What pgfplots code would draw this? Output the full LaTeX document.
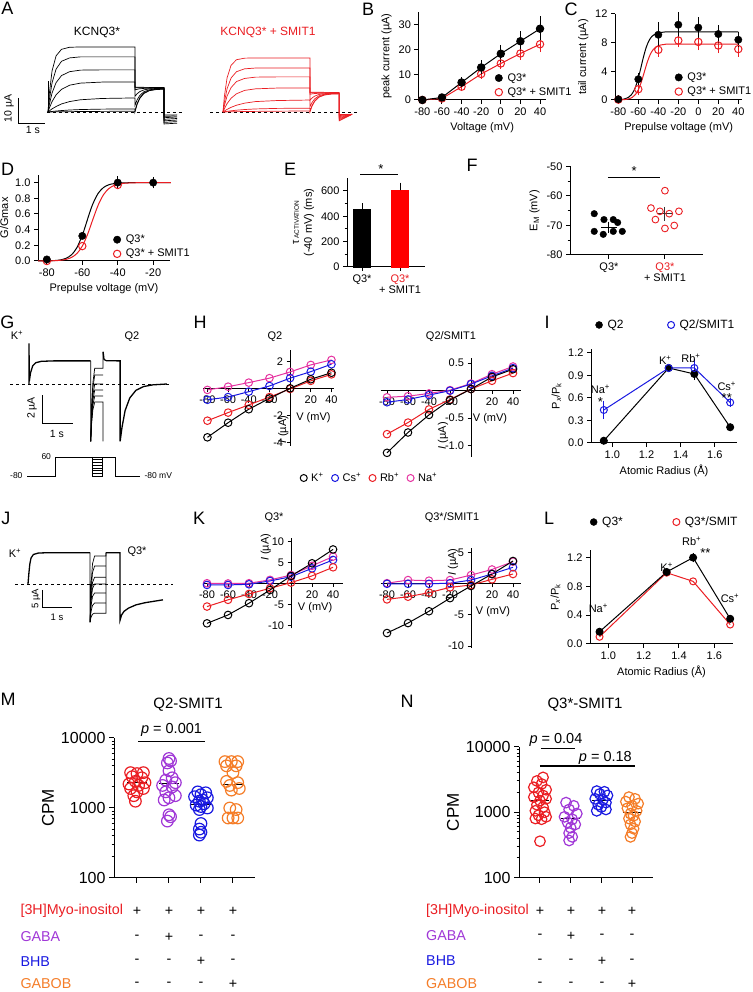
\documentclass[border=0pt]{standalone}
\usepackage{pgfplots}
\pgfplotsset{compat=1.18}
\usepackage{fontspec}
\setmainfont{Liberation Sans}
\newcommand\fs[1]{\fontsize{#1}{#1}\selectfont}
\definecolor{qred}{RGB}{235,30,35}
\definecolor{qblue}{RGB}{25,25,225}
\definecolor{qpurp}{RGB}{160,55,215}
\definecolor{qorange}{RGB}{245,125,40}
\definecolor{qmag}{RGB}{230,50,160}
\pgfplotsset{
 prism/.style={scale only axis, axis lines=left, axis line style={-, line width=1pt}, tick align=outside, major tick length=4pt, minor tick length=2.5pt, tick style={black, line width=1pt}, tick label style={font=\fs{11}}, label style={font=\fs{11}}, clip=false, /pgf/number format/assume math mode=true, /pgf/number format/1000 sep={}, legend cell align=left, legend style={draw=none, fill=none, font=\fs{11}, inner sep=0pt, row sep=1pt, /tikz/every odd column/.append style={column sep=3pt}}},
 trace/.style={scale only axis, hide axis, clip=false},
 iv/.style={scale only axis, axis lines=middle, axis line style={-, line width=1pt}, tick align=outside, major tick length=3.5pt, tick style={black, line width=1pt}, tick label style={font=\fs{11}}, clip=false, /pgf/number format/assume math mode=true, xtick={-80,-60,-40,-20,20,40}},
 ivp/.style={line width=1pt, mark=o, mark size=3.8pt, mark options={solid}},
 ebar/.style={error bars/.cd, y dir=both, y explicit, error bar style={line width=1pt}, error mark options={mark size=2.5pt, line width=1pt}},
}
\begin{document}
\begin{tikzpicture}[x=1pt,y=1pt]
\fill[white] (0,0) rectangle (752,992);
\path[use as bounding box] (0,0) rectangle (752,992);

% ---------------- A traces black
\begin{axis}[trace, at={(7.5pt,864.4pt)}, anchor=south west, width=175.5pt, height=85.8pt, xmin=-1.5, xmax=5, ymin=-6, ymax=27]
\addplot[black, dashed, line width=0.8pt] coordinates {(-0.04,0)(4.96,0)};
\addplot[black, line width=0.7pt] coordinates {(0,0)(0.05,7.1)(0.15,15.8)(0.3,21.6)(0.5,24.1)(0.8,24.9)(1.2,25)(3.22,25)(3.22,9.6)(3.3,9.5)(4.3,9.4)(4.3,-4.6)(4.78,-4.3)};
\addplot[black, line width=0.7pt] coordinates {(0,0)(0.05,4.7)(0.15,11.2)(0.3,16.5)(0.5,19.5)(0.8,20.8)(1.2,21.2)(3.22,21.2)(3.22,9.3)(4.3,9.3)(4.3,-4.0)(4.78,-3.7)};
\addplot[black, line width=0.7pt] coordinates {(0,0)(0.05,2.9)(0.15,7.3)(0.3,11.3)(0.5,14.0)(0.8,15.5)(1.2,16.1)(2.0,16.2)(3.22,16.2)(3.22,8.5)(3.3,8.73)(3.4,8.92)(3.55,9.07)(3.75,9.15)(4.0,9.19)(4.3,9.2)(4.3,-3.4)(4.78,-3.1)};
\addplot[black, line width=0.7pt] coordinates {(0,0)(0.05,1.5)(0.15,4.0)(0.3,6.6)(0.5,8.7)(0.8,10.3)(1.2,11.1)(2.0,11.5)(3.22,11.5)(3.22,6)(3.3,7.02)(3.4,7.84)(3.55,8.5)(3.75,8.88)(4.0,9.04)(4.3,9.09)(4.3,-2.8)(4.78,-2.5)};
\addplot[black, line width=0.7pt] coordinates {(0,0)(0.05,0.43)(0.15,1.2)(0.3,2.1)(0.5,3.1)(0.8,4.0)(1.2,4.7)(2.0,5.2)(3.22,5.4)(3.22,2.5)(3.3,4.65)(3.4,6.35)(3.55,7.75)(3.75,8.54)(4.0,8.87)(4.3,8.97)(4.3,-2.2)(4.78,-1.9)};
\addplot[black, line width=0.7pt] coordinates {(0,0)(0.05,0.07)(0.15,0.2)(0.3,0.37)(0.5,0.55)(0.8,0.76)(1.2,0.94)(2.0,1.1)(3.22,1.18)(3.22,0.4)(3.3,3.2)(3.4,5.44)(3.55,7.27)(3.75,8.3)(4.0,8.73)(4.3,8.87)(4.3,-1.7)(4.78,-1.5)};
\addplot[black, line width=0.7pt] coordinates {(0,0)(0.5,0.1)(1.5,0.2)(3.22,0.3)(3.22,0)(3.3,2.9)(3.4,5.22)(3.55,7.11)(3.75,8.18)(4.0,8.62)(4.3,8.76)(4.3,-1.2)(4.78,-1.1)};
\addplot[black, line width=1pt] coordinates {(0.01,0)(0.01,12)};
\addplot[black, line width=1pt] coordinates {(-1.111,5.385)(-1.111,-4.615)(-0.111,-4.615)};
\end{axis}
% ---------------- A traces red
\begin{axis}[trace, at={(209.5pt,864.4pt)}, anchor=south west, width=153.9pt, height=85.8pt, xmin=-0.5, xmax=5.2, ymin=-6, ymax=27]
\addplot[black, dashed, line width=0.8pt] coordinates {(-0.48,0)(4.96,0)};
\addplot[qred, line width=0.7pt] coordinates {(0,0)(0.05,5.9)(0.15,13.1)(0.3,18.0)(0.5,20.1)(0.8,20.7)(1.2,20.8)(3.22,20.8)(3.22,7.6)(4.3,7.5)(4.3,-3.4)(4.78,-0.9)};
\addplot[qred, line width=0.7pt] coordinates {(0,0)(0.05,3.7)(0.15,8.9)(0.3,13.1)(0.5,15.5)(0.8,16.6)(1.2,16.9)(3.22,16.9)(3.22,7.4)(4.3,7.4)(4.3,-3.0)(4.78,-0.9)};
\addplot[qred, line width=0.7pt] coordinates {(0,0)(0.05,2.4)(0.15,6.1)(0.3,9.4)(0.5,11.7)(0.8,12.9)(1.2,13.4)(2.0,13.5)(3.22,13.5)(3.22,6.8)(3.3,6.97)(3.4,7.1)(3.55,7.2)(3.75,7.26)(4.0,7.29)(4.3,7.3)(4.3,-2.6)(4.78,-0.9)};
\addplot[qred, line width=0.7pt] coordinates {(0,0)(0.05,1.2)(0.15,3.2)(0.3,5.3)(0.5,7.0)(0.8,8.3)(1.2,8.9)(2.0,9.2)(3.22,9.2)(3.22,4.5)(3.3,5.41)(3.4,6.13)(3.55,6.72)(3.75,7.05)(4.0,7.2)(4.3,7.24)(4.3,-2.2)(4.78,-0.9)};
\addplot[qred, line width=0.7pt] coordinates {(0,0)(0.05,0.37)(0.15,1.0)(0.3,1.8)(0.5,2.6)(0.8,3.4)(1.2,4.0)(2.0,4.4)(3.22,4.6)(3.22,2)(3.3,3.72)(3.4,5.08)(3.55,6.2)(3.75,6.83)(4.0,7.1)(4.3,7.18)(4.3,-1.8)(4.78,-0.9)};
\addplot[qred, line width=0.7pt] coordinates {(0,0)(0.05,0.09)(0.15,0.25)(0.3,0.46)(0.5,0.69)(0.8,0.95)(1.2,1.17)(2.0,1.38)(3.22,1.47)(3.22,0.3)(3.3,2.54)(3.4,4.33)(3.55,5.79)(3.75,6.62)(4.0,6.96)(4.3,7.07)(4.3,-1.4)(4.78,-0.9)};
\addplot[qred, line width=0.7pt] coordinates {(0,0)(0.5,0.13)(1.5,0.27)(3.22,0.4)(3.22,0)(3.3,2.31)(3.4,4.15)(3.55,5.66)(3.75,6.5)(4.0,6.86)(4.3,6.97)(4.3,-1.0)(4.78,-0.9)};
\end{axis}
\node[font=\fs{12}] at (97,960) {KCNQ3*};
\node[font=\fs{12}, text=qred] at (268,960) {KCNQ3* + SMIT1};
\node[font=\fs{10.5}, rotate=90] at (9,883.5) {10 µA};
\node[font=\fs{10.5}] at (33,862) {1 s};

% ---------------- B
\begin{axis}[prism, at={(418.4pt,892pt)}, anchor=south west, width=127.5pt, height=87.5pt, xmin=-84, xmax=46, ymin=0, ymax=35, xtick={-80,-60,-40,-20,0,20,40}, ytick={0,10,20,30}, xlabel={Voltage (mV)}, ylabel={peak current (µA)}, legend style={at={(0.6,0.17)}, anchor=west}]
\addlegendimage{only marks, mark=*, mark size=3.7pt, black}
\addlegendentry{Q3*}
\addlegendimage{only marks, mark=o, mark size=3.7pt, qred, line width=1pt}
\addlegendentry{Q3* + SMIT1}
\addplot[forget plot, qred, line width=1pt, mark=o, mark size=3.7pt, ebar] coordinates {(-80,0)+-(0,0.3)(-60,0.6)+-(0,0.4)(-40,5.3)+-(0,0.8)(-20,10.4)+-(0,1)(0,14.6)+-(0,1.2)(20,18.6)+-(0,1.5)(40,22.3)+-(0,2.2)};
\addplot[forget plot, black, line width=1pt, mark=*, mark size=3.7pt, ebar] coordinates {(-80,0)+-(0,0.3)(-60,1)+-(0,0.5)(-40,7)+-(0,1)(-20,13)+-(0,1.8)(0,18.5)+-(0,2.5)(20,23.5)+-(0,3)(40,28.5)+-(0,4)};
\end{axis}

% ---------------- C
\begin{axis}[prism, at={(615pt,892pt)}, anchor=south west, width=127.3pt, height=86pt, xmin=-83.3, xmax=44, ymin=0, ymax=12, xtick={-80,-60,-40,-20,0,20,40}, ytick={0,4,8,12}, xlabel={Prepulse voltage (mV)}, ylabel={tail current (µA)}, legend style={at={(0.47,0.18)}, anchor=west}]
\addlegendimage{only marks, mark=*, mark size=3.7pt, black}
\addlegendentry{Q3*}
\addlegendimage{only marks, mark=o, mark size=3.7pt, qred, line width=1pt}
\addlegendentry{Q3* + SMIT1}
\addplot[forget plot, black, line width=1pt, smooth] coordinates {(-80,0.03)(-75,0.104)(-70,0.354)(-67,0.721)(-64,1.407)(-61,2.555)(-58,4.159)(-55,5.912)(-52,7.384)(-49,8.368)(-46,8.929)(-43,9.222)(-40,9.366)(-35,9.461)(-28,9.493)(40,9.5)};
\addplot[forget plot, qred, line width=1pt, smooth] coordinates {(-80,0.012)(-75,0.041)(-70,0.14)(-66,0.37)(-63,0.744)(-60,1.42)(-57,2.502)(-54,3.9)(-51,5.298)(-48,6.377)(-45,7.056)(-42,7.43)(-38,7.66)(-33,7.759)(-26,7.793)(40,7.8)};
\addplot[forget plot, only marks, qred, line width=1pt, mark=o, mark size=3.7pt, ebar] coordinates {(-80,0.05)+-(0,0.2)(-60,1.5)+-(0,0.5)(-40,7.0)+-(0,0.6)(-20,8.3)+-(0,0.6)(0,8.1)+-(0,0.8)(20,7.6)+-(0,0.7)(40,7.1)+-(0,0.7)};
\addplot[forget plot, only marks, black, mark=*, mark size=3.7pt, ebar] coordinates {(-80,0.1)+-(0,0.2)(-60,2.9)+-(0,0.5)(-40,9.1)+-(0,1.4)(-20,10.5)+-(0,1.4)(0,10.1)+-(0,1.1)(20,9.2)+-(0,0.9)(40,8.4)+-(0,0.7)};
\end{axis}

% ---------------- D
\begin{axis}[prism, at={(38pt,731pt)}, anchor=south west, width=132pt, height=86.2pt, xmin=-85, xmax=-10.5, ymin=0, ymax=1.1, xtick={-80,-60,-40,-20}, ytick={0,0.2,0.4,0.6,0.8,1.0}, yticklabel style={/pgf/number format/fixed, /pgf/number format/fixed zerofill, /pgf/number format/precision=1}, xlabel={Prepulse voltage (mV)}, ylabel={G/Gmax}, legend style={at={(0.57,0.165)}, anchor=west}]
\addlegendimage{only marks, mark=*, mark size=3.7pt, black}
\addlegendentry{Q3*}
\addlegendimage{only marks, mark=o, mark size=3.7pt, qred, line width=1pt}
\addlegendentry{Q3* + SMIT1}
\addplot[forget plot, black, line width=1pt, smooth] coordinates {(-85,0.0004)(-80,0.0016)(-75,0.0067)(-72,0.0156)(-69,0.0361)(-66,0.081)(-63,0.172)(-60,0.329)(-58,0.464)(-56,0.606)(-54,0.731)(-51,0.865)(-48,0.938)(-45,0.973)(-42,0.988)(-38,0.996)(-30,0.9996)(-10,1)};
\addplot[forget plot, qred, line width=1pt, smooth] coordinates {(-85,0.0003)(-80,0.0012)(-75,0.0045)(-72,0.0099)(-69,0.0216)(-66,0.0463)(-63,0.0965)(-60,0.19)(-57,0.341)(-54,0.533)(-51,0.715)(-48,0.847)(-45,0.924)(-42,0.964)(-38,0.987)(-34,0.995)(-28,0.999)(-10,1)};
\addplot[forget plot, only marks, qred, line width=1pt, mark=o, mark size=3.7pt] coordinates {(-80,0.0)(-60,0.19)(-40,0.97)};
\addplot[forget plot, only marks, black, mark=*, mark size=3.7pt, ebar] coordinates {(-80,0.02)+-(0,0)(-60,0.32)+-(0,0)(-40,1.0)+-(0,0.05)(-20,1.0)+-(0,0.04)};
\end{axis}

% ---------------- E
\begin{axis}[prism, at={(347pt,725pt)}, anchor=south west, width=78.1pt, height=88.7pt, xmin=0.605, xmax=2.66, ymin=0, ymax=700, ytick={0,200,400,600}, minor y tick num=1, xtick={1,2}, xticklabels={Q3*,{\color{qred}Q3*\\+ SMIT1}}, xticklabel style={align=center, font=\fs{11}}, ylabel={τ\,{\fs{6.5}ACTIVATION}\\[2pt](-40 mV) (ms)}, ylabel style={align=center}]
\addplot[ybar, bar width=17pt, bar shift=0pt, fill=black, draw=black, error bars/.cd, y dir=plus, y explicit, error bar style={line width=1pt, black}, error mark options={mark size=2.5pt, line width=1pt, black}] coordinates {(1,460)+-(0,22)};
\addplot[ybar, bar width=17pt, bar shift=0pt, fill=red, draw=red, error bars/.cd, y dir=plus, y explicit, error bar style={line width=1pt, black}, error mark options={mark size=2.5pt, line width=1pt, black}] coordinates {(2,605)+-(0,42)};
\addplot[black, line width=1pt] coordinates {(0.95,726)(1.95,726)};
\node[font=\fs{13}] at (axis cs:1.5,770) {*};
\end{axis}

% ---------------- F
\begin{axis}[prism, at={(570pt,737pt)}, anchor=south west, width=133pt, height=88.5pt, xmin=0.304, xmax=2.68, ymin=-80, ymax=-50, ytick={-80,-70,-60,-50}, minor y tick num=1, xtick={1,2}, xticklabels={Q3*,{\color{qred}Q3*\\+ SMIT1}}, xticklabel style={align=center, font=\fs{11}}, ylabel={E\textsubscript{M} (mV)}]
\addplot[only marks, black, mark=*, mark size=3.3pt] coordinates {(0.737,-66)(0.911,-68)(1.077,-68)(1.155,-69)(0.737,-72)(0.898,-73)(1.077,-72)(1.238,-72)};
\addplot[only marks, qred, mark=o, mark size=3.4pt, line width=0.9pt] coordinates {(2.0,-58.2)(1.75,-64.1)(1.91,-65.2)(2.077,-66)(2.25,-65.2)(1.83,-68)(2.0,-71)(2.166,-70)};
\addplot[black, line width=1pt] coordinates {(0.86,-70.6)(1.14,-70.6)};
\addplot[black, line width=1pt, mark=none, ebar] coordinates {(1,-70.6)+-(0,1.1)};
\addplot[black!80, line width=1pt] coordinates {(1.86,-66)(2.14,-66)};
\addplot[black!80, line width=1pt, mark=none, ebar] coordinates {(2,-66)+-(0,1.5)};
\addplot[black, line width=0.8pt] coordinates {(0.98,-53.6)(1.91,-53.6)};
\node[font=\fs{13}] at (axis cs:1.45,-51.5) {*};
\end{axis}

% ---------------- G
\begin{axis}[trace, at={(4.2pt,545pt)}, anchor=south west, width=173.6pt, height=107.8pt, xmin=-0.8, xmax=4.8, ymin=-4.5, ymax=3.2]
\addplot[black, dashed, line width=0.8pt] coordinates {(-0.61,0)(4.55,0)};
\addplot[black, line width=1.3pt] coordinates {(0,0)(0,2.9)(0.01,0.2)(0.05,0.8)(0.12,1.3)(0.22,1.52)(0.4,1.62)(0.8,1.65)(1.99,1.65)};
\addplot[black, line width=1.3pt] coordinates {(2.39,2.3)(2.42,1.75)(2.5,1.66)(2.94,1.65)(2.94,-4.1)(3.0,-3.1)(3.1,-1.9)(3.25,-1.0)(3.45,-0.45)(3.7,-0.18)(4.0,-0.06)(4.45,0)};
\addplot[black, line width=0.7pt] coordinates {(1.99,1.65)(1.99,-4.1)(2.02,-1.75)(2.06,0.08)(2.12,1.12)(2.39,1.12)(2.39,2.3)};
\addplot[black, line width=0.7pt] coordinates {(1.99,-4.1)(2.02,-1.97)(2.06,-0.31)(2.12,0.64)(2.39,0.64)};
\addplot[black, line width=0.7pt] coordinates {(1.99,-4.1)(2.02,-2.26)(2.06,-0.82)(2.12,0)(2.39,0)};
\addplot[black, line width=0.7pt] coordinates {(1.99,-4.1)(2.02,-2.45)(2.06,-1.16)(2.12,-0.43)(2.39,-0.43)};
\addplot[black, line width=0.7pt] coordinates {(1.99,-4.1)(2.02,-2.64)(2.06,-1.51)(2.12,-0.86)(2.39,-0.86)};
\addplot[black, line width=0.7pt] coordinates {(1.99,-4.1)(2.02,-2.84)(2.06,-1.85)(2.12,-1.29)(2.39,-1.29)(2.39,-4.1)};
\addplot[black, line width=1pt] coordinates {(0.42,-0.79)(0.42,-2.79)(1.42,-2.79)};
\end{axis}
\node[font=\fs{11}] at (17,657) {K\textsuperscript{+}};
\node[font=\fs{11}] at (132,655) {Q2};
\node[font=\fs{10.5}, rotate=90] at (32,584) {2 µA};
\node[font=\fs{10.5}] at (57,558) {1 s};
% protocol
\begin{axis}[trace, at={(20pt,515.3pt)}, anchor=south west, width=125pt, height=20.4pt, xmin=20, xmax=145, ymin=-85, ymax=65]
\addplot[black, line width=0.7pt] coordinates {(27,-80)(55,-80)(55,60)(102.3,60)(102.3,60)(115,60)(115,-80)(140,-80)};
\addplot[black, line width=0.7pt] coordinates {(92,60)(92,-80)(102.3,-80)(102.3,60)};
\addplot[black, line width=0.5pt] coordinates {(92,40)(102.3,40)};
\addplot[black, line width=0.5pt] coordinates {(92,20)(102.3,20)};
\addplot[black, line width=0.5pt] coordinates {(92,0)(102.3,0)};
\addplot[black, line width=0.5pt] coordinates {(92,-20)(102.3,-20)};
\addplot[black, line width=0.5pt] coordinates {(92,-40)(102.3,-40)};
\addplot[black, line width=0.5pt] coordinates {(92,-60)(102.3,-60)};
\end{axis}
\node[font=\fs{8.5}, anchor=east] at (54.5,535.3) {60};
\node[font=\fs{8.5}, anchor=east] at (26,516.3) {-80};
\node[font=\fs{8.5}, anchor=west] at (141,516.3) {-80 mV};

% ---------------- H left
\begin{axis}[iv, at={(203.3pt,546.3pt)}, anchor=south west, width=130.2pt, height=95.9pt, xmin=-84, xmax=42, ymin=-4.2, ymax=2.9, ytick={-4,-2,2}, legend columns=4, legend style={draw=none, fill=none, font=\fs{11}, at={(0.72,-0.337)}, anchor=west, /tikz/every even column/.append style={column sep=6pt}, /tikz/every odd column/.append style={column sep=2pt}}]
\addlegendimage{only marks, mark=o, mark size=3.5pt, black, line width=1pt}
\addlegendentry{K\textsuperscript{+}}
\addlegendimage{only marks, mark=o, mark size=3.5pt, qblue, line width=1pt}
\addlegendentry{Cs\textsuperscript{+}}
\addlegendimage{only marks, mark=o, mark size=3.5pt, qred, line width=1pt}
\addlegendentry{Rb\textsuperscript{+}}
\addlegendimage{only marks, mark=o, mark size=3.5pt, qmag, line width=1pt}
\addlegendentry{Na\textsuperscript{+}}
\addplot[forget plot, ivp, qmag] coordinates {(-80,-0.07)(-60,0.17)(-40,0.47)(-20,0.8)(0,1.26)(20,1.78)(40,2.15)};
\addplot[forget plot, ivp, qblue] coordinates {(-80,-0.8)(-60,-0.6)(-40,-0.2)(-20,0.22)(0,0.8)(20,1.28)(40,1.83)};
\addplot[forget plot, ivp, qred] coordinates {(-80,-2.35)(-60,-1.75)(-40,-1.18)(-20,-0.6)(0,0.0)(20,0.6)(40,1.08)};
\addplot[forget plot, ivp, black] coordinates {(-80,-3.58)(-60,-2.5)(-40,-1.5)(-20,-0.7)(0,0.05)(20,0.72)(40,1.2)};
\node[font=\fs{11}] at (axis cs:22.6,-2.15) {V (mV)};
\node[font=\fs{11}, rotate=90] at (axis cs:-6.5,-3.0) {\textit{I} (µA)};
\end{axis}
\node[font=\fs{11}] at (275,655) {Q2};
% ---------------- H right
\begin{axis}[iv, at={(380.7pt,535.3pt)}, anchor=south west, width=140.7pt, height=99pt, xmin=-86, xmax=48, ymin=-1.2, ymax=0.6, ytick={-1,-0.5,0.5}, yticklabels={-1.0,-0.5,0.5}]
\addplot[ivp, qmag] coordinates {(-80,-0.12)(-60,-0.1)(-40,-0.05)(-20,0.01)(0,0.13)(20,0.3)(40,0.44)};
\addplot[ivp, qblue] coordinates {(-80,-0.21)(-60,-0.16)(-40,-0.08)(-20,0)(0,0.12)(20,0.27)(40,0.41)};
\addplot[ivp, qred] coordinates {(-80,-0.79)(-60,-0.58)(-40,-0.34)(-20,-0.16)(0,0.03)(20,0.18)(40,0.32)};
\addplot[ivp, black] coordinates {(-80,-1.13)(-60,-0.76)(-40,-0.44)(-20,-0.17)(0,0.03)(20,0.25)(40,0.39)};
\node[font=\fs{11}] at (axis cs:18.1,-0.5) {V (mV)};
\node[font=\fs{11}, rotate=90] at (axis cs:-26.7,-0.82) {\textit{I} (µA)};
\end{axis}
\node[font=\fs{11}] at (451,655) {Q2/SMIT1};

% ---------------- I
\begin{axis}[prism, at={(591pt,549pt)}, anchor=south west, width=146pt, height=93.75pt, xmin=0.875, xmax=1.73, ymin=0, ymax=1.25, ytick={0,0.3,0.6,0.9,1.2}, xtick={1.0,1.2,1.4,1.6}, ticklabel style={/pgf/number format/fixed, /pgf/number format/fixed zerofill, /pgf/number format/precision=1}, xlabel={Atomic Radius (Å)}, ylabel={P\textsubscript{\itshape x}/P\textsubscript{k}}, legend columns=2, legend style={font=\fs{12}, at={(0.03,1.259)}, anchor=west, /tikz/every even column/.append style={column sep=42pt}}]
\addlegendimage{only marks, mark=*, mark size=3.5pt, black}
\addlegendentry{Q2}
\addlegendimage{only marks, mark=o, mark size=3.5pt, qblue, line width=1pt}
\addlegendentry{Q2/SMIT1}
\addplot[forget plot, black, line width=1pt, mark=*, mark size=3.5pt, ebar] coordinates {(0.95,0.03)+-(0,0)(1.33,1.0)+-(0,0)(1.48,0.92)+-(0,0.05)(1.69,0.21)+-(0,0)};
\addplot[forget plot, qblue, line width=1pt, mark=o, mark size=3.5pt, ebar] coordinates {(0.95,0.44)+-(0,0.09)(1.33,1.0)+-(0,0)(1.48,1.0)+-(0,0.08)(1.69,0.54)+-(0,0.03)};
\node[font=\fs{11}] at (axis cs:0.93,0.72) {Na\textsuperscript{+}};
\node[font=\fs{13}] at (axis cs:0.93,0.55) {*};
\node[font=\fs{11}] at (axis cs:1.31,1.10) {K\textsuperscript{+}};
\node[font=\fs{11}] at (axis cs:1.46,1.13) {Rb\textsuperscript{+}};
\node[font=\fs{11}] at (axis cs:1.67,0.76) {Cs\textsuperscript{+}};
\node[font=\fs{13}] at (axis cs:1.67,0.6) {**};
\end{axis}

% ---------------- J
\begin{axis}[trace, at={(10pt,366.6pt)}, anchor=south west, width=168pt, height=77.4pt, xmin=-0.6, xmax=5.0, ymin=-11.5, ymax=10]
\addplot[black, dashed, line width=0.8pt] coordinates {(-0.43,0)(4.83,0)};
\addplot[black, line width=1.3pt] coordinates {(0,0)(0.03,3)(0.06,5.5)(0.1,7.2)(0.18,8.2)(0.35,8.6)(0.7,8.7)(2.07,8.7)};
\addplot[black, line width=1.3pt] coordinates {(2.6,8.7)(3.07,8.7)(3.07,-10)(3.12,-8.6)(3.2,-7.6)(3.35,-6.7)(3.6,-5.8)(3.9,-5.2)(4.2,-4.8)(4.5,-4.4)};
\addplot[black, line width=0.7pt] coordinates {(2.07,8.7)(2.07,-10.6)(2.10,-0.48)(2.15,5.59)(2.22,7.8)(2.6,7.8)(2.6,8.7)};
\addplot[black, line width=0.7pt] coordinates {(2.07,-10.6)(2.10,-2.02)(2.15,3.13)(2.22,5.0)(2.6,5.0)};
\addplot[black, line width=0.7pt] coordinates {(2.07,-10.6)(2.10,-3.73)(2.15,0.4)(2.22,1.9)(2.6,1.9)};
\addplot[black, line width=0.7pt] coordinates {(2.07,-10.6)(2.10,-4.77)(2.15,-1.27)(2.22,0)(2.6,0)};
\addplot[black, line width=0.7pt] coordinates {(2.07,-10.6)(2.10,-6.15)(2.15,-3.47)(2.22,-2.5)(2.6,-2.5)};
\addplot[black, line width=0.7pt] coordinates {(2.07,-10.6)(2.10,-7.69)(2.15,-5.94)(2.22,-5.3)(2.6,-5.3)};
\addplot[black, line width=0.7pt] coordinates {(2.07,-10.6)(2.10,-9.23)(2.15,-8.4)(2.22,-8.1)(2.6,-8.1)(2.6,8.7)};
\addplot[black, line width=1pt] coordinates {(0.467,-1.667)(0.467,-6.667)(1.467,-6.667)};
\end{axis}
\node[font=\fs{11}] at (15,439) {K\textsuperscript{+}};
\node[font=\fs{11}] at (137,440) {Q3*};
\node[font=\fs{9.5}, rotate=90] at (36,393) {5 µA};
\node[font=\fs{9.5}] at (57,375) {1 s};

% ---------------- K left
\begin{axis}[iv, at={(202.8pt,363.6pt)}, anchor=south west, width=139.7pt, height=90.3pt, xmin=-84, xmax=49, ymin=-10.7, ymax=10.8, ytick={-10,-5,5,10}]
\addplot[ivp, qmag] coordinates {(-80,0.05)(-60,0)(-40,0.05)(-20,0.85)(0,2.0)(20,4.2)(40,6.4)};
\addplot[ivp, qblue] coordinates {(-80,-0.35)(-60,-0.35)(-40,-0.2)(-20,0.6)(0,1.6)(20,3.6)(40,5.6)};
\addplot[ivp, qred] coordinates {(-80,-5.5)(-60,-3.9)(-40,-2.5)(-20,-1.15)(0,0.2)(20,1.8)(40,3.85)};
\addplot[ivp, black] coordinates {(-80,-9.5)(-60,-7.5)(-40,-4.7)(-20,-1.55)(0,1.8)(20,4.8)(40,8.1)};
\node[font=\fs{11}] at (axis cs:22.9,-5.83) {V (mV)};
\node[font=\fs{11}, rotate=90] at (axis cs:-24,8.6) {\textit{I} (µA)};
\end{axis}
\node[font=\fs{11}] at (274,474) {Q3*};
% ---------------- K right
\begin{axis}[iv, at={(380.7pt,344pt)}, anchor=south west, width=140.7pt, height=99.7pt, xmin=-86, xmax=48, ymin=-10.3, ymax=5.7, ytick={-10,-5,5}]
\addplot[ivp, qmag] coordinates {(-80,0.1)(-60,0.6)(-40,0.5)(-20,0.6)(0,1.4)(20,2.3)(40,3.55)};
\addplot[ivp, qblue] coordinates {(-80,0)(-60,0)(-40,0)(-20,0.1)(0,0.6)(20,1.57)(40,2.65)};
\addplot[ivp, qred] coordinates {(-80,-2.5)(-60,-2.07)(-40,-1.42)(-20,-0.57)(0,-0.2)(20,0.72)(40,1.57)};
\addplot[ivp, black] coordinates {(-80,-7.9)(-60,-6.3)(-40,-4.4)(-20,-2.3)(0,-0.35)(20,1.57)(40,3.66)};
\node[font=\fs{11}] at (axis cs:20.95,-4.53) {V (mV)};
\node[font=\fs{11}, rotate=90] at (axis cs:-17,3.5) {\textit{I} (µA)};
\end{axis}
\node[font=\fs{11}] at (452,474) {Q3*/SMIT1};

% ---------------- L
\begin{axis}[prism, at={(590pt,348pt)}, anchor=south west, width=143pt, height=93.6pt, xmin=0.896, xmax=1.706, ymin=0, ymax=1.3, ytick={0,0.4,0.8,1.2}, xtick={1.0,1.2,1.4,1.6}, ticklabel style={/pgf/number format/fixed, /pgf/number format/fixed zerofill, /pgf/number format/precision=1}, xlabel={Atomic Radius (Å)}, ylabel={P\textsubscript{\itshape x}/P\textsubscript{k}}, legend columns=2, legend style={font=\fs{12}, at={(0.0,1.303)}, anchor=west, /tikz/every even column/.append style={column sep=48pt}}]
\addlegendimage{only marks, mark=*, mark size=3.5pt, black}
\addlegendentry{Q3*}
\addlegendimage{only marks, mark=o, mark size=3.5pt, qred, line width=1pt}
\addlegendentry{Q3*/SMIT}
\addplot[forget plot, qred, line width=1pt, mark=o, mark size=3.5pt] coordinates {(0.95,0.1)(1.33,0.99)(1.48,0.87)(1.69,0.27)};
\addplot[forget plot, black, line width=1pt, mark=*, mark size=3.5pt, ebar] coordinates {(0.95,0.17)+-(0,0)(1.33,1.0)+-(0,0)(1.48,1.2)+-(0,0.03)(1.69,0.35)+-(0,0)};
\node[font=\fs{11}] at (axis cs:0.943,0.5) {Na\textsuperscript{+}};
\node[font=\fs{11}] at (axis cs:1.33,1.07) {K\textsuperscript{+}};
\node[font=\fs{11}] at (axis cs:1.472,1.42) {Rb\textsuperscript{+}};
\node[font=\fs{13}] at (axis cs:1.55,1.26) {**};
\node[font=\fs{11}] at (axis cs:1.689,0.64) {Cs\textsuperscript{+}};
\end{axis}

% ---------------- M
\begin{axis}[prism, at={(114pt,114pt)}, anchor=south west, width=141pt, height=140pt, ymode=log, ymin=100, ymax=10000, xmin=0.281, xmax=4.69, xtick={1,2,3,4}, xticklabels={}, ytick={100,1000,10000}, log ticks with fixed point, major tick length=5pt, tick label style={font=\fs{16}}, ylabel={CPM}, ylabel style={font=\fs{17}}]
\addplot[only marks, qred, mark=o, mark size=5.8pt, line width=1.2pt] coordinates {(0.8,3200)(1.0,3100)(1.2,3200)(0.85,2800)(1.15,2700)(0.95,2400)(1.25,2300)(0.75,2200)(1.05,2100)(0.8,1900)(1.2,1900)(1.0,1700)(0.9,1500)(0.95,1250)};
\addplot[only marks, qpurp, mark=o, mark size=5.8pt, line width=1.2pt] coordinates {(2.0,5100)(2.05,4700)(1.95,4400)(2.0,3400)(2.1,2700)(1.9,2500)(2.2,2300)(1.8,2100)(2.1,2000)(1.9,1700)(2.2,1500)(2.0,1400)(1.85,1300)(2.0,800)(2.05,750)(1.95,650)};
\addplot[only marks, qblue, mark=o, mark size=5.8pt, line width=1.2pt] coordinates {(2.9,1700)(3.15,1650)(3.0,1550)(2.8,1450)(3.2,1400)(3.05,1300)(2.95,1250)(3.1,1150)(2.85,1100)(3.0,1050)(3.2,1000)(2.95,950)(3.0,600)(2.95,500)(3.0,450)(2.95,410)};
\addplot[only marks, qorange, mark=o, mark size=5.8pt, line width=1.2pt] coordinates {(3.75,4600)(3.95,4600)(4.15,4600)(3.8,4000)(4.1,4000)(4.0,3200)(3.8,2400)(4.15,2300)(3.9,2100)(4.2,1900)(3.95,1800)(3.9,1000)(4.1,950)(3.85,720)(4.0,720)(4.15,720)};
\addplot[black, line width=1pt] coordinates {(0.7,2300)(1.3,2300)};
\addplot[black, line width=1pt] coordinates {(1.7,2250)(2.3,2250)};
\addplot[black, line width=1pt] coordinates {(2.7,1130)(3.3,1130)};
\addplot[black, line width=1pt] coordinates {(3.7,2200)(4.3,2200)};
\addplot[black, line width=1.5pt] coordinates {(1.04,8850)(3.12,8850)};
\node[font=\fs{14.5}] at (axis cs:2.08,13000) {\textit{p} = 0.001};
\end{axis}
\node[font=\fs{15}] at (188,287) {Q2-SMIT1};

% ---------------- N
\begin{axis}[prism, at={(519pt,114.3pt)}, anchor=south west, width=134pt, height=131pt, ymode=log, ymin=100, ymax=10000, xmin=0.316, xmax=4.684, xtick={1,2,3,4}, xticklabels={}, ytick={100,1000,10000}, log ticks with fixed point, major tick length=5pt, tick label style={font=\fs{16}}, ylabel={CPM}, ylabel style={font=\fs{17}}]
\addplot[only marks, qred, mark=o, mark size=5.3pt, line width=1.2pt] coordinates {(1.1,3400)(0.9,3000)(1.05,2700)(0.8,2400)(1.2,2200)(0.95,2000)(1.1,1800)(0.8,1700)(1.2,1600)(1.0,1500)(0.9,1300)(1.1,1200)(0.85,1050)(1.15,1000)(0.95,900)(1.2,850)(0.85,800)(1.05,780)(1.0,360)};
\addplot[only marks, qpurp, mark=o, mark size=5.3pt, line width=1.2pt] coordinates {(1.85,1400)(2.1,1250)(1.95,1100)(2.2,950)(1.8,850)(2.05,780)(1.9,700)(2.15,650)(2.0,580)(1.95,480)(2.05,420)(1.95,370)};
\addplot[only marks, qblue, mark=o, mark size=5.3pt, line width=1.2pt] coordinates {(2.85,2100)(3.1,2050)(2.95,1900)(3.2,1800)(2.8,1600)(3.05,1550)(3.15,1400)(2.9,1300)(3.0,1200)(3.15,1100)(2.85,1050)};
\addplot[only marks, qorange, mark=o, mark size=5.3pt, line width=1.2pt] coordinates {(3.9,1700)(4.1,1600)(3.8,1450)(4.2,1350)(4.0,1250)(3.85,1150)(4.15,1050)(3.95,950)(4.05,880)(3.9,800)(4.1,720)(3.95,650)(4.05,560)(4.0,480)(3.95,420)};
\addplot[black, line width=1pt] coordinates {(0.7,1500)(1.3,1500)};
\addplot[black, line width=1pt] coordinates {(1.7,790)(2.3,790)};
\addplot[black, line width=1pt] coordinates {(2.7,1520)(3.3,1520)};
\addplot[black, line width=1pt] coordinates {(3.7,1000)(4.3,1000)};
\addplot[black, line width=1.5pt] coordinates {(1.03,9460)(2.14,9460)};
\addplot[black, line width=1.5pt] coordinates {(1.0,5070)(4.1,5070)};
\node[font=\fs{14.5}] at (axis cs:1.52,12650) {\textit{p} = 0.04};
\node[font=\fs{14.5}] at (axis cs:3.13,6790) {\textit{p} = 0.18};
\end{axis}
\node[font=\fs{15}] at (585,287) {Q3*-SMIT1};

% ---------------- tables
\begin{scope}[every node/.style={font=\fs{14.3}}]
\node[anchor=west, text=qred] at (17,81) {[3H]Myo-inositol};
\node[anchor=west, text=qpurp] at (17,55) {GABA};
\node[anchor=west, text=qblue] at (17,30.5) {BHB};
\node[anchor=west, text=qorange] at (17,8) {GABOB};
\foreach \x/\a/\b/\c/\d in {137/+/-/-/-, 169/+/+/-/-, 201/+/-/+/-, 233/+/-/-/+} {
  \node at (\x,81) {\a}; \node at (\x,55) {\b}; \node at (\x,30.5) {\c}; \node at (\x,8) {\d};
}
\node[anchor=west, text=qred] at (422.7,81) {[3H]Myo-inositol};
\node[anchor=west, text=qpurp] at (422.7,56) {GABA};
\node[anchor=west, text=qblue] at (422.7,31) {BHB};
\node[anchor=west, text=qorange] at (422.7,8) {GABOB};
\foreach \x/\a/\b/\c/\d in {540/+/-/-/-, 571/+/+/-/-, 602/+/-/+/-, 632/+/-/-/+} {
  \node at (\x,81) {\a}; \node at (\x,56) {\b}; \node at (\x,31) {\c}; \node at (\x,8) {\d};
}
\end{scope}

% ---------------- panel letters
\begin{scope}[every node/.style={font=\fs{18}}]
\node at (7.5,983.5) {A};
\node at (368,983) {B};
\node at (571,983) {C};
\node at (7.5,822.5) {D};
\node at (290,823) {E};
\node at (472,827) {F};
\node at (7.5,669.5) {G};
\node at (200,669.5) {H};
\node at (547,669.5) {I};
\node at (6,474) {J};
\node at (199,474) {K};
\node at (549,474) {L};
\node at (8,293) {M};
\node at (407,291) {N};
\end{scope}
\end{tikzpicture}
\end{document}
